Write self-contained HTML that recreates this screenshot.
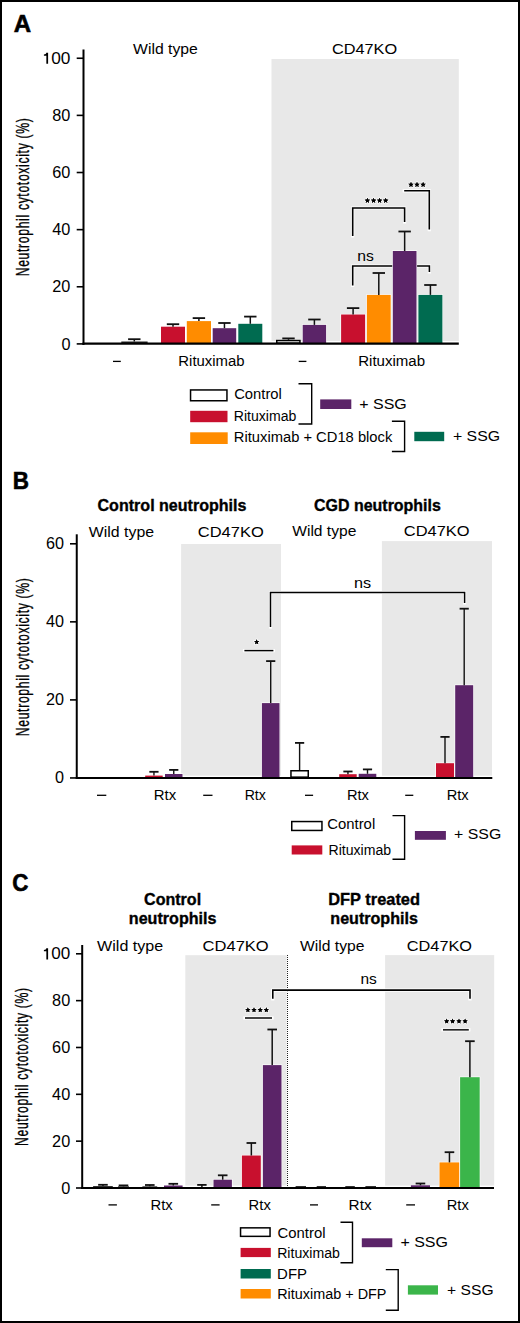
<!DOCTYPE html>
<html><head><meta charset="utf-8"><style>
html,body{margin:0;padding:0;background:#fff;}
body{width:520px;height:1323px;overflow:hidden;}
svg{display:block;font-family:"Liberation Sans",sans-serif;}
</style></head><body>
<svg width="520" height="1323" viewBox="0 0 520 1323">
<rect x="1" y="1" width="518" height="1321" fill="#fff" stroke="#000" stroke-width="2"/>
<text transform="translate(13.70,31.80) scale(1.0012,1.0)" font-size="24" font-weight="bold" stroke="#000" stroke-width="0.6">A</text>
<rect x="271.50" y="59.00" width="187.30" height="282.00" fill="#E8E8E8"/>
<text transform="translate(133.12,54.20) scale(1.0306,1.0)" font-size="15.3" font-weight="normal">Wild type</text>
<text transform="translate(331.88,54.00) scale(1.0662,1.0)" font-size="15.3" font-weight="normal">CD47KO</text>
<rect x="121.30" y="341.50" width="26.30" height="2.40" fill="#222"/>
<line x1="134.30" y1="341.50" x2="134.30" y2="339.20" stroke="#111" stroke-width="1.5" />
<line x1="128.10" y1="339.20" x2="140.50" y2="339.20" stroke="#111" stroke-width="1.8" />
<rect x="161.00" y="326.70" width="24.00" height="17.20" fill="#C8102E"/>
<line x1="173.00" y1="326.70" x2="173.00" y2="324.20" stroke="#111" stroke-width="1.5" />
<line x1="166.80" y1="324.20" x2="179.20" y2="324.20" stroke="#111" stroke-width="1.8" />
<rect x="186.80" y="321.10" width="24.20" height="22.80" fill="#FF8C00"/>
<line x1="198.90" y1="321.10" x2="198.90" y2="318.10" stroke="#111" stroke-width="1.5" />
<line x1="192.70" y1="318.10" x2="205.10" y2="318.10" stroke="#111" stroke-width="1.8" />
<rect x="212.70" y="328.20" width="23.50" height="15.70" fill="#5B2468"/>
<line x1="224.45" y1="328.20" x2="224.45" y2="323.00" stroke="#111" stroke-width="1.5" />
<line x1="218.25" y1="323.00" x2="230.65" y2="323.00" stroke="#111" stroke-width="1.8" />
<rect x="238.30" y="323.80" width="24.00" height="20.10" fill="#006B50"/>
<line x1="250.30" y1="323.80" x2="250.30" y2="316.60" stroke="#111" stroke-width="1.5" />
<line x1="244.10" y1="316.60" x2="256.50" y2="316.60" stroke="#111" stroke-width="1.8" />
<rect x="276.75" y="340.55" width="23.20" height="2.60" fill="#fff" stroke="#000" stroke-width="1.5"/>
<line x1="288.50" y1="339.80" x2="288.50" y2="338.40" stroke="#111" stroke-width="1.5" />
<line x1="282.30" y1="338.40" x2="294.70" y2="338.40" stroke="#111" stroke-width="1.8" />
<rect x="302.10" y="324.30" width="24.60" height="19.60" fill="#fff"/>
<rect x="302.70" y="324.90" width="23.40" height="19.00" fill="#5B2468"/>
<line x1="314.40" y1="324.90" x2="314.40" y2="319.50" stroke="#111" stroke-width="1.5" />
<line x1="308.20" y1="319.50" x2="320.60" y2="319.50" stroke="#111" stroke-width="1.8" />
<path d="M352.7,285.5 V266 H429.4 V272" fill="none" stroke="#fff" stroke-width="3.2" stroke-linecap="square"/>
<path d="M352.7,285.5 V266 H429.4 V272" fill="none" stroke="#000" stroke-width="1.6"/>
<path d="M352.7,236 V208 H404.6 V222" fill="none" stroke="#fff" stroke-width="3.2" stroke-linecap="square"/>
<path d="M352.7,236 V208 H404.6 V222" fill="none" stroke="#000" stroke-width="1.6"/>
<path d="M404.2,190.8 H429.3 V229.6" fill="none" stroke="#fff" stroke-width="3.2" stroke-linecap="square"/>
<path d="M404.2,190.8 H429.3 V229.6" fill="none" stroke="#000" stroke-width="1.6"/>
<rect x="340.50" y="313.90" width="25.20" height="30.00" fill="#fff"/>
<rect x="341.10" y="314.50" width="24.00" height="29.40" fill="#C8102E"/>
<line x1="353.10" y1="314.50" x2="353.10" y2="308.10" stroke="#111" stroke-width="1.5" />
<line x1="346.90" y1="308.10" x2="359.30" y2="308.10" stroke="#111" stroke-width="1.8" />
<rect x="366.30" y="294.30" width="25.00" height="49.60" fill="#fff"/>
<rect x="366.90" y="294.90" width="23.80" height="49.00" fill="#FF8C00"/>
<line x1="378.80" y1="294.90" x2="378.80" y2="273.00" stroke="#111" stroke-width="1.5" />
<line x1="372.60" y1="273.00" x2="385.00" y2="273.00" stroke="#111" stroke-width="1.8" />
<rect x="392.20" y="250.40" width="24.90" height="93.50" fill="#fff"/>
<rect x="392.80" y="251.00" width="23.70" height="92.90" fill="#5B2468"/>
<line x1="404.65" y1="251.00" x2="404.65" y2="231.50" stroke="#111" stroke-width="1.5" />
<line x1="398.45" y1="231.50" x2="410.85" y2="231.50" stroke="#111" stroke-width="1.8" />
<rect x="417.80" y="294.30" width="25.20" height="49.60" fill="#fff"/>
<rect x="418.40" y="294.90" width="24.00" height="49.00" fill="#006B50"/>
<line x1="430.40" y1="294.90" x2="430.40" y2="285.00" stroke="#111" stroke-width="1.5" />
<line x1="424.20" y1="285.00" x2="436.60" y2="285.00" stroke="#111" stroke-width="1.8" />
<text transform="translate(357.28,260.50) scale(1.0266,1.0)" font-size="15.3" font-weight="normal">ns</text>
<polygon points="367.40,197.70 368.12,199.61 370.16,199.70 368.56,200.98 369.10,202.95 367.40,201.82 365.70,202.95 366.24,200.98 364.64,199.70 366.68,199.61" fill="#fff" stroke="#fff" stroke-width="1.6" stroke-linejoin="round"/>
<polygon points="367.40,197.70 368.12,199.61 370.16,199.70 368.56,200.98 369.10,202.95 367.40,201.82 365.70,202.95 366.24,200.98 364.64,199.70 366.68,199.61" fill="#000"/>
<polygon points="373.60,197.70 374.32,199.61 376.36,199.70 374.76,200.98 375.30,202.95 373.60,201.82 371.90,202.95 372.44,200.98 370.84,199.70 372.88,199.61" fill="#fff" stroke="#fff" stroke-width="1.6" stroke-linejoin="round"/>
<polygon points="373.60,197.70 374.32,199.61 376.36,199.70 374.76,200.98 375.30,202.95 373.60,201.82 371.90,202.95 372.44,200.98 370.84,199.70 372.88,199.61" fill="#000"/>
<polygon points="379.60,197.70 380.32,199.61 382.36,199.70 380.76,200.98 381.30,202.95 379.60,201.82 377.90,202.95 378.44,200.98 376.84,199.70 378.88,199.61" fill="#fff" stroke="#fff" stroke-width="1.6" stroke-linejoin="round"/>
<polygon points="379.60,197.70 380.32,199.61 382.36,199.70 380.76,200.98 381.30,202.95 379.60,201.82 377.90,202.95 378.44,200.98 376.84,199.70 378.88,199.61" fill="#000"/>
<polygon points="385.70,197.70 386.42,199.61 388.46,199.70 386.86,200.98 387.40,202.95 385.70,201.82 384.00,202.95 384.54,200.98 382.94,199.70 384.98,199.61" fill="#fff" stroke="#fff" stroke-width="1.6" stroke-linejoin="round"/>
<polygon points="385.70,197.70 386.42,199.61 388.46,199.70 386.86,200.98 387.40,202.95 385.70,201.82 384.00,202.95 384.54,200.98 382.94,199.70 384.98,199.61" fill="#000"/>
<polygon points="367.40,197.70 368.12,199.61 370.16,199.70 368.56,200.98 369.10,202.95 367.40,201.82 365.70,202.95 366.24,200.98 364.64,199.70 366.68,199.61" fill="#000"/>
<polygon points="373.60,197.70 374.32,199.61 376.36,199.70 374.76,200.98 375.30,202.95 373.60,201.82 371.90,202.95 372.44,200.98 370.84,199.70 372.88,199.61" fill="#000"/>
<polygon points="379.60,197.70 380.32,199.61 382.36,199.70 380.76,200.98 381.30,202.95 379.60,201.82 377.90,202.95 378.44,200.98 376.84,199.70 378.88,199.61" fill="#000"/>
<polygon points="385.70,197.70 386.42,199.61 388.46,199.70 386.86,200.98 387.40,202.95 385.70,201.82 384.00,202.95 384.54,200.98 382.94,199.70 384.98,199.61" fill="#000"/>
<polygon points="411.00,181.80 411.72,183.71 413.76,183.80 412.16,185.08 412.70,187.05 411.00,185.92 409.30,187.05 409.84,185.08 408.24,183.80 410.28,183.71" fill="#fff" stroke="#fff" stroke-width="1.6" stroke-linejoin="round"/>
<polygon points="411.00,181.80 411.72,183.71 413.76,183.80 412.16,185.08 412.70,187.05 411.00,185.92 409.30,187.05 409.84,185.08 408.24,183.80 410.28,183.71" fill="#000"/>
<polygon points="417.00,181.80 417.72,183.71 419.76,183.80 418.16,185.08 418.70,187.05 417.00,185.92 415.30,187.05 415.84,185.08 414.24,183.80 416.28,183.71" fill="#fff" stroke="#fff" stroke-width="1.6" stroke-linejoin="round"/>
<polygon points="417.00,181.80 417.72,183.71 419.76,183.80 418.16,185.08 418.70,187.05 417.00,185.92 415.30,187.05 415.84,185.08 414.24,183.80 416.28,183.71" fill="#000"/>
<polygon points="423.10,181.80 423.82,183.71 425.86,183.80 424.26,185.08 424.80,187.05 423.10,185.92 421.40,187.05 421.94,185.08 420.34,183.80 422.38,183.71" fill="#fff" stroke="#fff" stroke-width="1.6" stroke-linejoin="round"/>
<polygon points="423.10,181.80 423.82,183.71 425.86,183.80 424.26,185.08 424.80,187.05 423.10,185.92 421.40,187.05 421.94,185.08 420.34,183.80 422.38,183.71" fill="#000"/>
<polygon points="411.00,181.80 411.72,183.71 413.76,183.80 412.16,185.08 412.70,187.05 411.00,185.92 409.30,187.05 409.84,185.08 408.24,183.80 410.28,183.71" fill="#000"/>
<polygon points="417.00,181.80 417.72,183.71 419.76,183.80 418.16,185.08 418.70,187.05 417.00,185.92 415.30,187.05 415.84,185.08 414.24,183.80 416.28,183.71" fill="#000"/>
<polygon points="423.10,181.80 423.82,183.71 425.86,183.80 424.26,185.08 424.80,187.05 423.10,185.92 421.40,187.05 421.94,185.08 420.34,183.80 422.38,183.71" fill="#000"/>
<line x1="83.50" y1="49.50" x2="83.50" y2="345.00" stroke="#000" stroke-width="2" />
<line x1="82.50" y1="343.60" x2="458.80" y2="343.60" stroke="#000" stroke-width="2.2" />
<line x1="76.70" y1="58.25" x2="83.50" y2="58.25" stroke="#000" stroke-width="1.6" />
<path d="M48.10,52.65 V63.85 H46.35 V55.65 H43.90 V54.40 C45.50,54.35 46.15,53.85 46.25,52.65 Z" fill="#000"/>
<text transform="translate(51.21,63.85) scale(1.0610,1.0)" font-size="16.3" font-weight="normal">00</text>
<line x1="76.70" y1="115.38" x2="83.50" y2="115.38" stroke="#000" stroke-width="1.6" />
<text transform="translate(52.28,120.98) scale(1.0000,1.0)" font-size="16.3" font-weight="normal">80</text>
<line x1="76.70" y1="172.51" x2="83.50" y2="172.51" stroke="#000" stroke-width="1.6" />
<text transform="translate(52.28,178.11) scale(1.0000,1.0)" font-size="16.3" font-weight="normal">60</text>
<line x1="76.70" y1="229.64" x2="83.50" y2="229.64" stroke="#000" stroke-width="1.6" />
<text transform="translate(52.28,235.24) scale(1.0000,1.0)" font-size="16.3" font-weight="normal">40</text>
<line x1="76.70" y1="286.77" x2="83.50" y2="286.77" stroke="#000" stroke-width="1.6" />
<text transform="translate(52.28,292.37) scale(1.0000,1.0)" font-size="16.3" font-weight="normal">20</text>
<line x1="76.70" y1="343.90" x2="83.50" y2="343.90" stroke="#000" stroke-width="1.6" />
<text transform="translate(61.41,349.50) scale(1.0000,1.0)" font-size="16.3" font-weight="normal">0</text>
<text transform="translate(29.0,197.3) rotate(-90) scale(0.654,1)" font-size="18.6" font-weight="normal" text-anchor="middle" textLength="241.59" lengthAdjust="spacing" stroke="#000" stroke-width="0.35">Neutrophil cytotoxicity (%)</text>
<line x1="113.00" y1="361.40" x2="120.80" y2="361.40" stroke="#000" stroke-width="1.3" />
<line x1="298.70" y1="361.40" x2="306.40" y2="361.40" stroke="#000" stroke-width="1.3" />
<text transform="translate(178.31,365.80) scale(0.9747,1.0)" font-size="15.3" font-weight="normal">Rituximab</text>
<text transform="translate(358.20,365.80) scale(0.9838,1.0)" font-size="15.3" font-weight="normal">Rituximab</text>
<rect x="190.55" y="389.95" width="36.40" height="10.80" fill="#fff" stroke="#000" stroke-width="1.5"/>
<rect x="190.20" y="410.80" width="37.30" height="11.40" fill="#C8102E"/>
<rect x="190.20" y="432.30" width="37.50" height="11.70" fill="#FF8C00"/>
<text transform="translate(234.16,399.30) scale(0.9683,1.0)" font-size="15.3" font-weight="normal">Control</text>
<text transform="translate(233.77,421.00) scale(0.9203,1.0)" font-size="15.3" font-weight="normal">Rituximab</text>
<text transform="translate(233.82,441.60) scale(0.9637,1.0)" font-size="15.3" font-weight="normal">Rituximab + CD18 block</text>
<path d="M298.5,383.7 H311.7 V424 H298.5" fill="none" stroke="#000" stroke-width="1.4"/>
<rect x="320.20" y="399.40" width="31.10" height="9.60" fill="#5B2468"/>
<text transform="translate(359.20,409.20) scale(1.0458,1.0)" font-size="15.3" font-weight="normal">+ SSG</text>
<path d="M391.9,421.3 H404.6 V451.5 H391.9" fill="none" stroke="#000" stroke-width="1.4"/>
<rect x="414.30" y="431.80" width="29.90" height="9.40" fill="#006B50"/>
<text transform="translate(452.91,440.70) scale(1.0366,1.0)" font-size="15.3" font-weight="normal">+ SSG</text>
<text transform="translate(12.64,489.00) scale(0.9358,1.0)" font-size="24" font-weight="bold" stroke="#000" stroke-width="0.6">B</text>
<rect x="181.10" y="544.00" width="99.90" height="231.70" fill="#E8E8E8"/>
<rect x="381.90" y="541.10" width="110.10" height="234.60" fill="#E8E8E8"/>
<text transform="translate(97.53,510.90) scale(1.0036,1.03)" font-size="16" font-weight="bold" stroke="#000" stroke-width="0.35">Control neutrophils</text>
<text transform="translate(314.04,511.20) scale(0.9985,1.03)" font-size="16" font-weight="bold" stroke="#000" stroke-width="0.35">CGD neutrophils</text>
<text transform="translate(88.82,536.50) scale(1.0387,1.0)" font-size="15.3" font-weight="normal">Wild type</text>
<text transform="translate(197.78,536.50) scale(1.0779,1.0)" font-size="15.3" font-weight="normal">CD47KO</text>
<text transform="translate(292.22,535.80) scale(1.0194,1.0)" font-size="15.3" font-weight="normal">Wild type</text>
<text transform="translate(403.78,535.80) scale(1.0745,1.0)" font-size="15.3" font-weight="normal">CD47KO</text>
<path d="M270.5,627 V592.5 H464.6 V603" fill="none" stroke="#fff" stroke-width="3.1" stroke-linecap="square"/>
<path d="M270.5,627 V592.5 H464.6 V603" fill="none" stroke="#000" stroke-width="1.5"/>
<path d="M244.4,650.6 H273.4" fill="none" stroke="#fff" stroke-width="3.1" stroke-linecap="square"/>
<path d="M244.4,650.6 H273.4" fill="none" stroke="#000" stroke-width="1.5"/>
<polygon points="256.70,639.25 257.38,641.07 259.32,641.15 257.80,642.36 258.32,644.22 256.70,643.15 255.08,644.22 255.60,642.36 254.08,641.15 256.02,641.07" fill="#fff" stroke="#fff" stroke-width="1.6" stroke-linejoin="round"/>
<polygon points="256.70,639.25 257.38,641.07 259.32,641.15 257.80,642.36 258.32,644.22 256.70,643.15 255.08,644.22 255.60,642.36 254.08,641.15 256.02,641.07" fill="#000"/>
<polygon points="256.70,639.25 257.38,641.07 259.32,641.15 257.80,642.36 258.32,644.22 256.70,643.15 255.08,644.22 255.60,642.36 254.08,641.15 256.02,641.07" fill="#000"/>
<text transform="translate(354.05,587.90) scale(1.0608,1.0)" font-size="15.3" font-weight="normal">ns</text>
<rect x="144.60" y="775.00" width="18.70" height="2.90" fill="#fff"/>
<rect x="145.20" y="775.60" width="17.50" height="2.30" fill="#C8102E"/>
<line x1="153.95" y1="775.60" x2="153.95" y2="771.80" stroke="#111" stroke-width="1.4" />
<line x1="149.35" y1="771.80" x2="158.55" y2="771.80" stroke="#111" stroke-width="1.8" />
<rect x="164.40" y="773.40" width="18.70" height="4.50" fill="#fff"/>
<rect x="165.00" y="774.00" width="17.50" height="3.90" fill="#5B2468"/>
<line x1="173.75" y1="774.00" x2="173.75" y2="769.90" stroke="#111" stroke-width="1.4" />
<line x1="169.15" y1="769.90" x2="178.35" y2="769.90" stroke="#111" stroke-width="1.8" />
<rect x="261.30" y="702.50" width="18.80" height="75.40" fill="#fff"/>
<rect x="261.90" y="703.10" width="17.60" height="74.80" fill="#5B2468"/>
<line x1="270.70" y1="703.10" x2="270.70" y2="661.10" stroke="#111" stroke-width="1.4" />
<line x1="266.10" y1="661.10" x2="275.30" y2="661.10" stroke="#111" stroke-width="1.8" />
<rect x="338.60" y="773.60" width="18.70" height="4.30" fill="#fff"/>
<rect x="339.20" y="774.20" width="17.50" height="3.70" fill="#C8102E"/>
<line x1="347.95" y1="774.20" x2="347.95" y2="771.50" stroke="#111" stroke-width="1.4" />
<line x1="343.35" y1="771.50" x2="352.55" y2="771.50" stroke="#111" stroke-width="1.8" />
<rect x="358.10" y="773.20" width="18.80" height="4.70" fill="#fff"/>
<rect x="358.70" y="773.80" width="17.60" height="4.10" fill="#5B2468"/>
<line x1="367.50" y1="773.80" x2="367.50" y2="769.40" stroke="#111" stroke-width="1.4" />
<line x1="362.90" y1="769.40" x2="372.10" y2="769.40" stroke="#111" stroke-width="1.8" />
<rect x="435.40" y="762.60" width="19.20" height="15.30" fill="#fff"/>
<rect x="436.00" y="763.20" width="18.00" height="14.70" fill="#C8102E"/>
<line x1="445.00" y1="763.20" x2="445.00" y2="736.90" stroke="#111" stroke-width="1.4" />
<line x1="440.40" y1="736.90" x2="449.60" y2="736.90" stroke="#111" stroke-width="1.8" />
<rect x="454.60" y="684.60" width="19.20" height="93.30" fill="#fff"/>
<rect x="455.20" y="685.20" width="18.00" height="92.70" fill="#5B2468"/>
<line x1="464.20" y1="685.20" x2="464.20" y2="608.70" stroke="#111" stroke-width="1.4" />
<line x1="459.60" y1="608.70" x2="468.80" y2="608.70" stroke="#111" stroke-width="1.8" />
<rect x="290.95" y="770.75" width="17.30" height="6.40" fill="#fff" stroke="#000" stroke-width="1.5"/>
<line x1="299.60" y1="770.00" x2="299.60" y2="742.90" stroke="#111" stroke-width="1.4" />
<line x1="295.00" y1="742.90" x2="304.20" y2="742.90" stroke="#111" stroke-width="1.8" />
<line x1="76.75" y1="534.30" x2="76.75" y2="779.00" stroke="#000" stroke-width="2" />
<line x1="75.80" y1="778.00" x2="492.30" y2="778.00" stroke="#000" stroke-width="2" />
<line x1="70.00" y1="543.80" x2="76.75" y2="543.80" stroke="#000" stroke-width="1.6" />
<text transform="translate(45.88,549.20) scale(1.0000,1.0)" font-size="16.2" font-weight="normal">60</text>
<line x1="70.00" y1="621.85" x2="76.75" y2="621.85" stroke="#000" stroke-width="1.6" />
<text transform="translate(45.88,627.25) scale(1.0000,1.0)" font-size="16.2" font-weight="normal">40</text>
<line x1="70.00" y1="699.90" x2="76.75" y2="699.90" stroke="#000" stroke-width="1.6" />
<text transform="translate(45.88,705.30) scale(1.0000,1.0)" font-size="16.2" font-weight="normal">20</text>
<line x1="70.00" y1="777.95" x2="76.75" y2="777.95" stroke="#000" stroke-width="1.6" />
<text transform="translate(54.96,783.35) scale(1.0000,1.0)" font-size="16.2" font-weight="normal">0</text>
<text transform="translate(28.9,657.2) rotate(-90) scale(0.654,1)" font-size="18.6" font-weight="normal" text-anchor="middle" textLength="241.59" lengthAdjust="spacing" stroke="#000" stroke-width="0.35">Neutrophil cytotoxicity (%)</text>
<line x1="97.00" y1="795.30" x2="106.30" y2="795.30" stroke="#000" stroke-width="1.3" />
<line x1="203.20" y1="795.30" x2="212.50" y2="795.30" stroke="#000" stroke-width="1.3" />
<line x1="305.00" y1="795.30" x2="313.10" y2="795.30" stroke="#000" stroke-width="1.3" />
<line x1="405.20" y1="795.30" x2="413.30" y2="795.30" stroke="#000" stroke-width="1.3" />
<text transform="translate(153.70,800.20) scale(0.9769,1.0)" font-size="15.3" font-weight="normal">Rtx</text>
<text transform="translate(244.67,800.20) scale(0.9211,1.0)" font-size="15.3" font-weight="normal">Rtx</text>
<text transform="translate(346.93,800.20) scale(0.9583,1.0)" font-size="15.3" font-weight="normal">Rtx</text>
<text transform="translate(446.63,800.20) scale(0.9583,1.0)" font-size="15.3" font-weight="normal">Rtx</text>
<rect x="291.75" y="821.55" width="30.20" height="8.90" fill="#fff" stroke="#000" stroke-width="1.5"/>
<rect x="291.70" y="845.40" width="30.60" height="9.10" fill="#C8102E"/>
<text transform="translate(327.26,828.70) scale(0.9725,1.0)" font-size="15.3" font-weight="normal">Control</text>
<text transform="translate(328.57,855.00) scale(0.9203,1.0)" font-size="15.3" font-weight="normal">Rituximab</text>
<path d="M392.5,815.6 H404.6 V859.2 H392.5" fill="none" stroke="#000" stroke-width="1.4"/>
<rect x="414.90" y="831.00" width="31.00" height="8.80" fill="#5B2468"/>
<text transform="translate(454.11,838.90) scale(1.0366,1.0)" font-size="15.3" font-weight="normal">+ SSG</text>
<text transform="translate(12.31,891.40) scale(0.9288,1.0)" font-size="24" font-weight="bold" stroke="#000" stroke-width="0.6">C</text>
<rect x="185.30" y="955.20" width="101.30" height="230.40" fill="#E8E8E8"/>
<rect x="385.10" y="955.10" width="109.10" height="230.50" fill="#E8E8E8"/>
<line x1="287.50" y1="955.00" x2="287.50" y2="1187.00" stroke="#222" stroke-width="1" stroke-dasharray="1,1"/>
<text transform="translate(144.03,904.70) scale(1.0042,1.03)" font-size="16" font-weight="bold" stroke="#000" stroke-width="0.35">Control</text>
<text transform="translate(128.83,923.50) scale(1.0071,1.03)" font-size="16" font-weight="bold" stroke="#000" stroke-width="0.35">neutrophils</text>
<text transform="translate(328.21,904.70) scale(1.0264,1.03)" font-size="16" font-weight="bold" stroke="#000" stroke-width="0.35">DFP treated</text>
<text transform="translate(330.33,923.80) scale(1.0060,1.03)" font-size="16" font-weight="bold" stroke="#000" stroke-width="0.35">neutrophils</text>
<text transform="translate(97.12,950.50) scale(1.0515,1.0)" font-size="15.3" font-weight="normal">Wild type</text>
<text transform="translate(202.57,950.50) scale(1.0812,1.0)" font-size="15.3" font-weight="normal">CD47KO</text>
<text transform="translate(300.02,950.70) scale(1.0242,1.0)" font-size="15.3" font-weight="normal">Wild type</text>
<text transform="translate(406.78,950.70) scale(1.0662,1.0)" font-size="15.3" font-weight="normal">CD47KO</text>
<path d="M272.8,998.8 V990.1 H470 V998.8" fill="none" stroke="#fff" stroke-width="3.2" stroke-linecap="square"/>
<path d="M272.8,998.8 V990.1 H470 V998.8" fill="none" stroke="#000" stroke-width="1.6"/>
<path d="M245,1018 H272" fill="none" stroke="#fff" stroke-width="3.3" stroke-linecap="square"/>
<path d="M245,1018 H272" fill="none" stroke="#222" stroke-width="1.7"/>
<polygon points="247.90,1007.30 248.58,1009.12 250.52,1009.20 249.00,1010.41 249.52,1012.27 247.90,1011.20 246.28,1012.27 246.80,1010.41 245.28,1009.20 247.22,1009.12" fill="#fff" stroke="#fff" stroke-width="1.6" stroke-linejoin="round"/>
<polygon points="247.90,1007.30 248.58,1009.12 250.52,1009.20 249.00,1010.41 249.52,1012.27 247.90,1011.20 246.28,1012.27 246.80,1010.41 245.28,1009.20 247.22,1009.12" fill="#000"/>
<polygon points="254.00,1007.30 254.68,1009.12 256.62,1009.20 255.10,1010.41 255.62,1012.27 254.00,1011.20 252.38,1012.27 252.90,1010.41 251.38,1009.20 253.32,1009.12" fill="#fff" stroke="#fff" stroke-width="1.6" stroke-linejoin="round"/>
<polygon points="254.00,1007.30 254.68,1009.12 256.62,1009.20 255.10,1010.41 255.62,1012.27 254.00,1011.20 252.38,1012.27 252.90,1010.41 251.38,1009.20 253.32,1009.12" fill="#000"/>
<polygon points="260.20,1007.30 260.88,1009.12 262.82,1009.20 261.30,1010.41 261.82,1012.27 260.20,1011.20 258.58,1012.27 259.10,1010.41 257.58,1009.20 259.52,1009.12" fill="#fff" stroke="#fff" stroke-width="1.6" stroke-linejoin="round"/>
<polygon points="260.20,1007.30 260.88,1009.12 262.82,1009.20 261.30,1010.41 261.82,1012.27 260.20,1011.20 258.58,1012.27 259.10,1010.41 257.58,1009.20 259.52,1009.12" fill="#000"/>
<polygon points="266.30,1007.30 266.98,1009.12 268.92,1009.20 267.40,1010.41 267.92,1012.27 266.30,1011.20 264.68,1012.27 265.20,1010.41 263.68,1009.20 265.62,1009.12" fill="#fff" stroke="#fff" stroke-width="1.6" stroke-linejoin="round"/>
<polygon points="266.30,1007.30 266.98,1009.12 268.92,1009.20 267.40,1010.41 267.92,1012.27 266.30,1011.20 264.68,1012.27 265.20,1010.41 263.68,1009.20 265.62,1009.12" fill="#000"/>
<polygon points="247.90,1007.30 248.58,1009.12 250.52,1009.20 249.00,1010.41 249.52,1012.27 247.90,1011.20 246.28,1012.27 246.80,1010.41 245.28,1009.20 247.22,1009.12" fill="#000"/>
<polygon points="254.00,1007.30 254.68,1009.12 256.62,1009.20 255.10,1010.41 255.62,1012.27 254.00,1011.20 252.38,1012.27 252.90,1010.41 251.38,1009.20 253.32,1009.12" fill="#000"/>
<polygon points="260.20,1007.30 260.88,1009.12 262.82,1009.20 261.30,1010.41 261.82,1012.27 260.20,1011.20 258.58,1012.27 259.10,1010.41 257.58,1009.20 259.52,1009.12" fill="#000"/>
<polygon points="266.30,1007.30 266.98,1009.12 268.92,1009.20 267.40,1010.41 267.92,1012.27 266.30,1011.20 264.68,1012.27 265.20,1010.41 263.68,1009.20 265.62,1009.12" fill="#000"/>
<path d="M443,1029.8 H468.8" fill="none" stroke="#fff" stroke-width="3.3" stroke-linecap="square"/>
<path d="M443,1029.8 H468.8" fill="none" stroke="#222" stroke-width="1.7"/>
<polygon points="446.70,1018.55 447.38,1020.37 449.32,1020.45 447.80,1021.66 448.32,1023.52 446.70,1022.45 445.08,1023.52 445.60,1021.66 444.08,1020.45 446.02,1020.37" fill="#fff" stroke="#fff" stroke-width="1.6" stroke-linejoin="round"/>
<polygon points="446.70,1018.55 447.38,1020.37 449.32,1020.45 447.80,1021.66 448.32,1023.52 446.70,1022.45 445.08,1023.52 445.60,1021.66 444.08,1020.45 446.02,1020.37" fill="#000"/>
<polygon points="452.60,1018.55 453.28,1020.37 455.22,1020.45 453.70,1021.66 454.22,1023.52 452.60,1022.45 450.98,1023.52 451.50,1021.66 449.98,1020.45 451.92,1020.37" fill="#fff" stroke="#fff" stroke-width="1.6" stroke-linejoin="round"/>
<polygon points="452.60,1018.55 453.28,1020.37 455.22,1020.45 453.70,1021.66 454.22,1023.52 452.60,1022.45 450.98,1023.52 451.50,1021.66 449.98,1020.45 451.92,1020.37" fill="#000"/>
<polygon points="459.00,1018.55 459.68,1020.37 461.62,1020.45 460.10,1021.66 460.62,1023.52 459.00,1022.45 457.38,1023.52 457.90,1021.66 456.38,1020.45 458.32,1020.37" fill="#fff" stroke="#fff" stroke-width="1.6" stroke-linejoin="round"/>
<polygon points="459.00,1018.55 459.68,1020.37 461.62,1020.45 460.10,1021.66 460.62,1023.52 459.00,1022.45 457.38,1023.52 457.90,1021.66 456.38,1020.45 458.32,1020.37" fill="#000"/>
<polygon points="465.10,1018.55 465.78,1020.37 467.72,1020.45 466.20,1021.66 466.72,1023.52 465.10,1022.45 463.48,1023.52 464.00,1021.66 462.48,1020.45 464.42,1020.37" fill="#fff" stroke="#fff" stroke-width="1.6" stroke-linejoin="round"/>
<polygon points="465.10,1018.55 465.78,1020.37 467.72,1020.45 466.20,1021.66 466.72,1023.52 465.10,1022.45 463.48,1023.52 464.00,1021.66 462.48,1020.45 464.42,1020.37" fill="#000"/>
<polygon points="446.70,1018.55 447.38,1020.37 449.32,1020.45 447.80,1021.66 448.32,1023.52 446.70,1022.45 445.08,1023.52 445.60,1021.66 444.08,1020.45 446.02,1020.37" fill="#000"/>
<polygon points="452.60,1018.55 453.28,1020.37 455.22,1020.45 453.70,1021.66 454.22,1023.52 452.60,1022.45 450.98,1023.52 451.50,1021.66 449.98,1020.45 451.92,1020.37" fill="#000"/>
<polygon points="459.00,1018.55 459.68,1020.37 461.62,1020.45 460.10,1021.66 460.62,1023.52 459.00,1022.45 457.38,1023.52 457.90,1021.66 456.38,1020.45 458.32,1020.37" fill="#000"/>
<polygon points="465.10,1018.55 465.78,1020.37 467.72,1020.45 466.20,1021.66 466.72,1023.52 465.10,1022.45 463.48,1023.52 464.00,1021.66 462.48,1020.45 464.42,1020.37" fill="#000"/>
<text transform="translate(360.49,983.50) scale(1.0129,1.0)" font-size="15.3" font-weight="normal">ns</text>
<rect x="93.10" y="1186.00" width="19.70" height="1.20" fill="#333"/>
<line x1="102.95" y1="1186.00" x2="102.95" y2="1184.80" stroke="#111" stroke-width="1.5" />
<line x1="98.15" y1="1184.80" x2="107.75" y2="1184.80" stroke="#111" stroke-width="1.8" />
<rect x="118.00" y="1186.30" width="11.00" height="0.90" fill="#333"/>
<line x1="123.50" y1="1186.30" x2="123.50" y2="1185.40" stroke="#111" stroke-width="1.5" />
<line x1="118.70" y1="1185.40" x2="128.30" y2="1185.40" stroke="#111" stroke-width="1.8" />
<rect x="142.40" y="1186.30" width="14.80" height="0.90" fill="#333"/>
<line x1="149.80" y1="1186.30" x2="149.80" y2="1185.00" stroke="#111" stroke-width="1.5" />
<line x1="145.00" y1="1185.00" x2="154.60" y2="1185.00" stroke="#111" stroke-width="1.8" />
<rect x="164.00" y="1185.50" width="18.60" height="1.70" fill="#5B2468"/>
<line x1="173.30" y1="1185.50" x2="173.30" y2="1183.80" stroke="#111" stroke-width="1.5" />
<line x1="168.50" y1="1183.80" x2="178.10" y2="1183.80" stroke="#111" stroke-width="1.8" />
<rect x="212.90" y="1179.10" width="19.60" height="8.10" fill="#fff"/>
<rect x="213.50" y="1179.70" width="18.40" height="7.50" fill="#5B2468"/>
<line x1="222.70" y1="1179.70" x2="222.70" y2="1175.30" stroke="#111" stroke-width="1.5" />
<line x1="217.90" y1="1175.30" x2="227.50" y2="1175.30" stroke="#111" stroke-width="1.8" />
<rect x="241.30" y="1154.90" width="20.10" height="32.30" fill="#fff"/>
<rect x="241.90" y="1155.50" width="18.90" height="31.70" fill="#C8102E"/>
<line x1="251.35" y1="1155.50" x2="251.35" y2="1143.00" stroke="#111" stroke-width="1.5" />
<line x1="246.55" y1="1143.00" x2="256.15" y2="1143.00" stroke="#111" stroke-width="1.8" />
<rect x="262.30" y="1064.50" width="19.80" height="122.70" fill="#fff"/>
<rect x="262.90" y="1065.10" width="18.60" height="122.10" fill="#5B2468"/>
<line x1="272.20" y1="1065.10" x2="272.20" y2="1029.50" stroke="#111" stroke-width="1.5" />
<line x1="267.40" y1="1029.50" x2="277.00" y2="1029.50" stroke="#111" stroke-width="1.8" />
<rect x="410.90" y="1185.30" width="19.10" height="1.90" fill="#5B2468"/>
<line x1="420.45" y1="1185.30" x2="420.45" y2="1183.50" stroke="#111" stroke-width="1.5" />
<line x1="415.65" y1="1183.50" x2="425.25" y2="1183.50" stroke="#111" stroke-width="1.8" />
<rect x="438.90" y="1161.80" width="21.10" height="25.40" fill="#fff"/>
<rect x="439.50" y="1162.40" width="19.90" height="24.80" fill="#FF8C00"/>
<line x1="449.45" y1="1162.40" x2="449.45" y2="1152.20" stroke="#111" stroke-width="1.5" />
<line x1="444.65" y1="1152.20" x2="454.25" y2="1152.20" stroke="#111" stroke-width="1.8" />
<rect x="459.50" y="1076.60" width="20.80" height="110.60" fill="#fff"/>
<rect x="460.10" y="1077.20" width="19.60" height="110.00" fill="#3BB54A"/>
<line x1="469.90" y1="1077.20" x2="469.90" y2="1041.20" stroke="#111" stroke-width="1.5" />
<line x1="465.10" y1="1041.20" x2="474.70" y2="1041.20" stroke="#111" stroke-width="1.8" />
<line x1="201.90" y1="1187.00" x2="201.90" y2="1184.90" stroke="#111" stroke-width="1.5" />
<line x1="197.20" y1="1184.90" x2="206.60" y2="1184.90" stroke="#111" stroke-width="1.8" />
<rect x="295.60" y="1186.00" width="10.40" height="1.20" fill="#333"/>
<rect x="316.70" y="1186.00" width="9.30" height="1.20" fill="#333"/>
<rect x="345.30" y="1186.00" width="9.50" height="1.20" fill="#333"/>
<rect x="365.40" y="1186.00" width="10.60" height="1.20" fill="#333"/>
<line x1="82.20" y1="945.00" x2="82.20" y2="1189.00" stroke="#000" stroke-width="2" />
<line x1="81.20" y1="1188.00" x2="494.00" y2="1188.00" stroke="#000" stroke-width="2" />
<line x1="76.00" y1="953.80" x2="82.20" y2="953.80" stroke="#000" stroke-width="1.6" />
<path d="M48.10,948.20 V959.40 H46.35 V951.20 H43.90 V949.95 C45.50,949.90 46.15,949.40 46.25,948.20 Z" fill="#000"/>
<text transform="translate(51.22,959.40) scale(1.0492,1.0)" font-size="16.3" font-weight="normal">00</text>
<line x1="76.00" y1="1000.64" x2="82.20" y2="1000.64" stroke="#000" stroke-width="1.6" />
<text transform="translate(52.08,1006.24) scale(1.0000,1.0)" font-size="16.3" font-weight="normal">80</text>
<line x1="76.00" y1="1047.48" x2="82.20" y2="1047.48" stroke="#000" stroke-width="1.6" />
<text transform="translate(52.08,1053.08) scale(1.0000,1.0)" font-size="16.3" font-weight="normal">60</text>
<line x1="76.00" y1="1094.32" x2="82.20" y2="1094.32" stroke="#000" stroke-width="1.6" />
<text transform="translate(52.08,1099.92) scale(1.0000,1.0)" font-size="16.3" font-weight="normal">40</text>
<line x1="76.00" y1="1141.16" x2="82.20" y2="1141.16" stroke="#000" stroke-width="1.6" />
<text transform="translate(52.08,1146.76) scale(1.0000,1.0)" font-size="16.3" font-weight="normal">20</text>
<line x1="76.00" y1="1188.00" x2="82.20" y2="1188.00" stroke="#000" stroke-width="1.6" />
<text transform="translate(61.21,1193.60) scale(1.0000,1.0)" font-size="16.3" font-weight="normal">0</text>
<text transform="translate(28.3,1067) rotate(-90) scale(0.654,1)" font-size="18.6" font-weight="normal" text-anchor="middle" textLength="241.59" lengthAdjust="spacing" stroke="#000" stroke-width="0.35">Neutrophil cytotoxicity (%)</text>
<line x1="108.50" y1="1204.90" x2="116.90" y2="1204.90" stroke="#000" stroke-width="1.3" />
<line x1="211.20" y1="1204.90" x2="219.60" y2="1204.90" stroke="#000" stroke-width="1.3" />
<line x1="310.00" y1="1204.90" x2="318.00" y2="1204.90" stroke="#000" stroke-width="1.3" />
<line x1="406.20" y1="1204.90" x2="415.00" y2="1204.90" stroke="#000" stroke-width="1.3" />
<text transform="translate(150.52,1209.80) scale(0.9676,1.0)" font-size="15.3" font-weight="normal">Rtx</text>
<text transform="translate(248.62,1209.80) scale(0.9676,1.0)" font-size="15.3" font-weight="normal">Rtx</text>
<text transform="translate(348.58,1209.80) scale(1.0002,1.0)" font-size="15.3" font-weight="normal">Rtx</text>
<text transform="translate(446.72,1209.80) scale(0.9629,1.0)" font-size="15.3" font-weight="normal">Rtx</text>
<rect x="240.55" y="1227.85" width="29.50" height="8.50" fill="#fff" stroke="#000" stroke-width="1.5"/>
<rect x="240.60" y="1247.90" width="30.20" height="9.20" fill="#C8102E"/>
<rect x="240.60" y="1269.00" width="30.20" height="9.50" fill="#006B50"/>
<rect x="240.60" y="1289.00" width="30.20" height="9.50" fill="#FF8C00"/>
<text transform="translate(277.56,1237.90) scale(0.9725,1.0)" font-size="15.3" font-weight="normal">Control</text>
<text transform="translate(277.17,1258.10) scale(0.9218,1.0)" font-size="15.3" font-weight="normal">Rituximab</text>
<text transform="translate(277.10,1278.50) scale(0.9778,1.0)" font-size="15.3" font-weight="normal">DFP</text>
<text transform="translate(277.15,1298.50) scale(0.9425,1.0)" font-size="15.3" font-weight="normal">Rituximab + DFP</text>
<path d="M340.5,1222.2 H352.5 V1262.8 H340.5" fill="none" stroke="#000" stroke-width="1.4"/>
<rect x="361.80" y="1238.30" width="30.50" height="8.90" fill="#5B2468"/>
<text transform="translate(400.40,1247.40) scale(1.0458,1.0)" font-size="15.3" font-weight="normal">+ SSG</text>
<path d="M385.8,1269.6 H398.2 V1310.2 H385.8" fill="none" stroke="#000" stroke-width="1.4"/>
<rect x="407.90" y="1285.30" width="30.10" height="9.30" fill="#3BB54A"/>
<text transform="translate(447.12,1294.80) scale(1.0228,1.0)" font-size="15.3" font-weight="normal">+ SSG</text>
</svg>
</body></html>
